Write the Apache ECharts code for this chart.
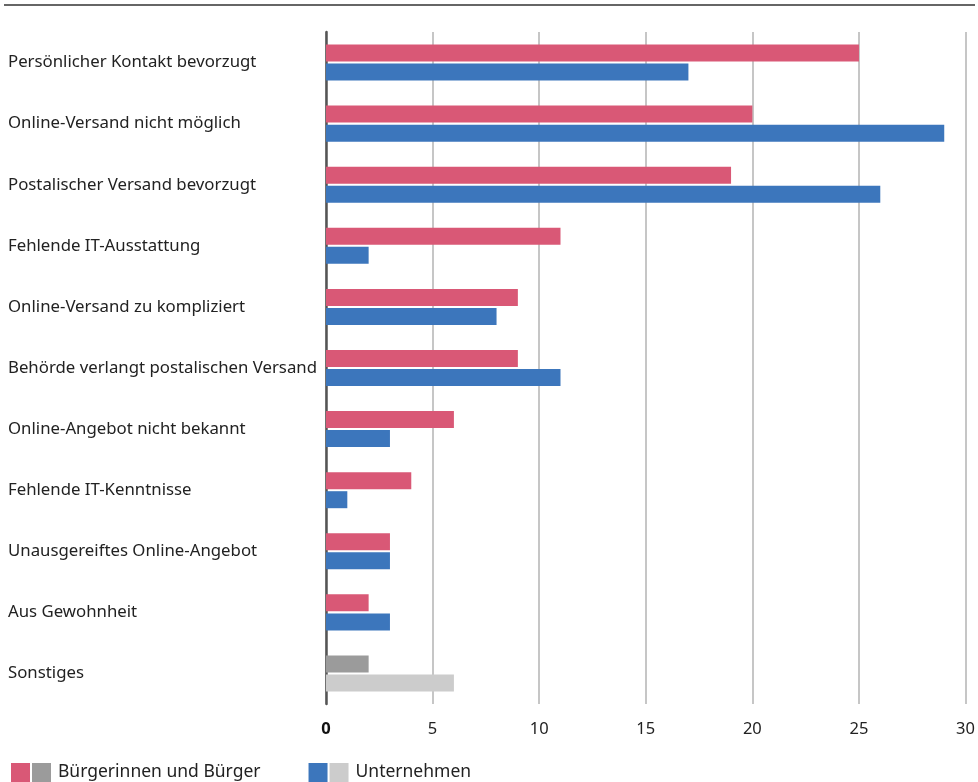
<!DOCTYPE html>
<html>
<head>
<meta charset="utf-8">
<script src="https://cdn.jsdelivr.net/npm/echarts@6/dist/echarts.min.js"></script>
<style>
html,body{margin:0;padding:0;background:#fff;}
#chart{width:978px;height:782px;}
</style>
</head>
<body>
<div id="chart"></div>
<script>
const categories = [
  'Persönlicher Kontakt bevorzugt',
  'Online-Versand nicht möglich',
  'Postalischer Versand bevorzugt',
  'Fehlende IT-Ausstattung',
  'Online-Versand zu kompliziert',
  'Behörde verlangt postalischen Versand',
  'Online-Angebot nicht bekannt',
  'Fehlende IT-Kenntnisse',
  'Unausgereiftes Online-Angebot',
  'Aus Gewohnheit',
  'Sonstiges'
];
const buerger = [25, 20, 19, 11, 9, 9, 6, 4, 3, 2, 2];
const unternehmen = [17, 29, 26, 2, 8, 11, 3, 1, 3, 3, 6];
const xTicks = [0, 5, 10, 15, 20, 25, 30];
const seriesNames = ['Bürgerinnen und Bürger', 'Unternehmen'];

const RED = '#d95876', BLUE = '#3c76bc', GRAY = '#9b9b9b', LIGHT = '#cccccc';
const FONT = 'Noto Sans';

function mk(values, main, other) {
  return values.map((v, i) => ({
    value: v,
    itemStyle: { color: categories[i] === 'Sonstiges' ? other : main }
  }));
}

const chart = echarts.init(document.getElementById('chart'), null, {renderer: 'canvas'});
chart.setOption({
  animation: false,
  textStyle: { fontFamily: FONT },
  grid: { left: 326, right: 11, top: 32, bottom: 78 },
  xAxis: {
    type: 'value', min: xTicks[0], max: xTicks[xTicks.length - 1], interval: 5,
    axisLine: { show: false },
    axisTick: { show: false },
    splitLine: { lineStyle: { color: '#b3b3b3', width: 1.5 } },
    axisLabel: {
      margin: 17, fontSize: 16.5, color: '#222', fontFamily: FONT,
      formatter: v => v === 0 ? '{b|0}' : String(v),
      rich: { b: { fontWeight: 'bold', fontSize: 16.5, color: '#111', fontFamily: FONT } }
    }
  },
  yAxis: {
    type: 'category', data: categories, inverse: true,
    axisLine: { show: true, lineStyle: { color: '#555', width: 2.5 } },
    axisTick: { show: false },
    axisLabel: { align: 'left', margin: 318, fontSize: 16.8, color: '#222', fontFamily: FONT, padding: [0,0,4,0] }
  },
  legend: {
    left: 11, top: 763, itemWidth: 19, itemHeight: 19, itemGap: 48, padding: 0,
    icon: 'rect',
    data: seriesNames.map((n, i) => ({ name: n, itemStyle: { color: i === 0 ? RED : BLUE } })),
    formatter: n => (n === seriesNames[0] ? '{g|}' : '{l|}') + '{t|' + n + '}',
    textStyle: {
      fontFamily: FONT, fontSize: 17.5, color: '#222', padding: [0,0,0,-3], lineHeight: 19,
      rich: {
        g: { width: 19, height: 19, backgroundColor: GRAY },
        l: { width: 19, height: 19, backgroundColor: LIGHT },
        t: { fontSize: 17.5, color: '#222', fontFamily: FONT, padding: [0,0,0,7], lineHeight: 19 }
      }
    }
  },
  series: [
    { name: seriesNames[0], type: 'bar', data: mk(buerger, RED, GRAY), barWidth: 17, barGap: '12%', itemStyle: { color: RED } },
    { name: seriesNames[1], type: 'bar', data: mk(unternehmen, BLUE, LIGHT), barWidth: 17, barGap: '12%', itemStyle: { color: BLUE } }
  ],
  graphic: [
    { type: 'line', shape: { x1: 4, y1: 5, x2: 975, y2: 5 }, style: { stroke: '#666', lineWidth: 2 } }
  ]
});
</script>
</body>
</html>
